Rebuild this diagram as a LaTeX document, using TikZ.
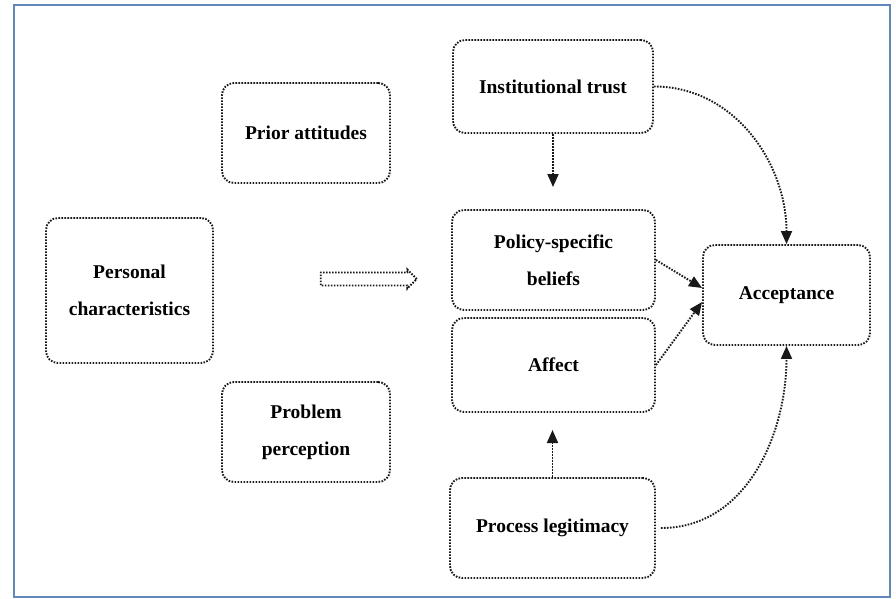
\documentclass[tikz,border=0pt]{standalone}
\usepackage{fontspec}
\setmainfont{Liberation Serif}
\usetikzlibrary{arrows.meta,shapes.arrows}
\definecolor{framecol}{RGB}{98,136,186}
\tikzset{
  dotline/.style={line width=1.9pt, dash pattern=on 1.6pt off 1.4pt},
  card/.style={dotline, draw=black!90, rounded corners=12pt, align=center,
    font=\fontsize{19.5}{37}\selectfont\bfseries, inner sep=0pt},
  link/.style={dotline, draw=black!90, -{Triangle[length=13pt,width=11pt]}},
}
\begin{document}
\begin{tikzpicture}[x=1pt,y=-1pt]
\useasboundingbox (0,0) rectangle (896,599);
\fill[white] (0,0) rectangle (896,599);
\draw[framecol, line width=2.2pt] (14,5) rectangle (890,597);

% boxes
\node[card, minimum width=168pt, minimum height=100pt] (prior) at (306,133) {Prior attitudes};
\node[card, minimum width=200pt, minimum height=93pt] (trust) at (553,86.5) {Institutional trust};
\node[card, minimum width=167pt, minimum height=145pt] (pers) at (129.5,290.5) {Personal\\characteristics};
\node[card, minimum width=203pt, minimum height=100pt] (policy) at (553.5,260) {Policy-specific\\beliefs};
\node[card, minimum width=203pt, minimum height=94pt] (affect) at (553.5,365) {Affect};
\node[card, minimum width=167pt, minimum height=100pt] (accept) at (786.5,295) {Acceptance};
\node[card, minimum width=168pt, minimum height=100pt] (problem) at (306,432) {Problem\\perception};
\node[card, minimum width=205pt, minimum height=100pt] (legit) at (552.5,528) {Process legitimacy};

% hollow block arrow in the middle
\node[single arrow, dotline, draw=black!90, minimum height=96pt, minimum width=19pt,
  single arrow head extend=2.5pt, inner xsep=0pt, inner ysep=4.5pt,
  shape border uses incircle=false] (flow) at (365.5,279) {};

% free ends of the short vertical arrows
\coordinate (trustend) at (553,187);
\coordinate (legitend) at (552.5,430);
\coordinate (accin1) at ([yshift=7pt]accept.west);
\coordinate (accin2) at ([yshift=-7pt]accept.west);

% connectors
\draw[link] (trust.south) -- (trustend);
\draw[link] (legit.north) -- (legitend);
\draw[link] (policy.east) -- (accin1);
\draw[link] (affect.east) -- (accin2);
\draw[link] (trust.east) to[out=0,in=90] (accept.north);
\draw[link] ([xshift=5pt]legit.east) to[out=0,in=-90] (accept.south);
\end{tikzpicture}
\end{document}
